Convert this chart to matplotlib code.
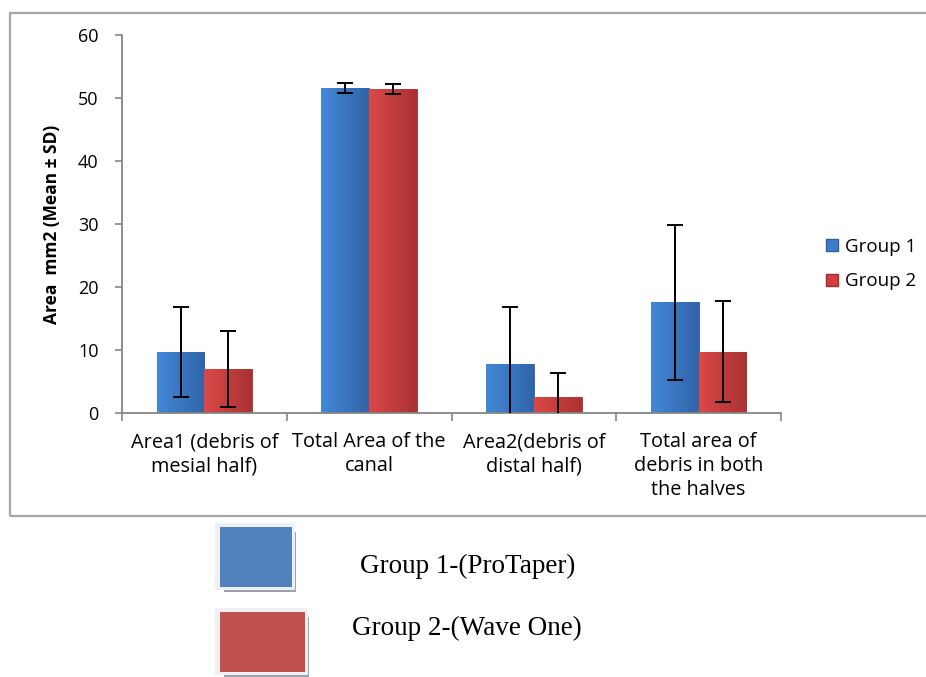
import matplotlib
matplotlib.use('Agg')
import matplotlib.pyplot as plt
import numpy as np
from matplotlib.patches import Rectangle, Patch

# Area of debris (mm2), mean and SD per group
categorias = ['Area1 (debris of\nmesial half)', 'Total Area of the\ncanal',
              'Area2(debris of\ndistal half)', 'Total area of\ndebris in both\nthe halves']
g1_media = [9.7, 51.6, 7.8, 17.6]
g1_sd = [7.1, 0.8, 9.0, 12.3]
g2_media = [7.0, 51.4, 2.6, 9.7]
g2_sd = [6.0, 0.8, 3.8, 8.0]
yticks = [0, 10, 20, 30, 40, 50, 60]

azul = '#3d7dcc'
rojo = '#d23f3f'

fig = plt.figure(figsize=(9.26, 6.77), dpi=100)
ax = fig.add_axes([0.1318, 0.3900, 0.7116, 0.5583])

x = np.arange(len(categorias))
w = 0.29
b1 = ax.bar(x - w / 2, g1_media, w, color=azul, edgecolor='#2e5f9e', linewidth=0.6, zorder=2)
b2 = ax.bar(x + w / 2, g2_media, w, color=rojo, edgecolor='#9e2e2e', linewidth=0.6, zorder=2)

# degradado horizontal dentro de cada barra (efecto 3D)
def sombrear(barras, claro, oscuro):
    cmap = matplotlib.colors.LinearSegmentedColormap.from_list('g', [claro, oscuro])
    grad = np.linspace(0, 1, 64).reshape(1, -1)
    for b in barras:
        x0, y0 = b.get_x(), b.get_y()
        im = ax.imshow(grad, cmap=cmap, aspect='auto', zorder=2.5,
                       extent=[x0, x0 + b.get_width(), y0, y0 + b.get_height()])
        im.set_clip_path(b)

sombrear(b1, '#4388d8', '#3164a8')
sombrear(b2, '#db4848', '#aa3232')

ax.errorbar(x - w / 2, g1_media, yerr=g1_sd, fmt='none', ecolor='black',
            elinewidth=1.4, capsize=5.5, capthick=1.4, zorder=3)
ax.errorbar(x + w / 2, g2_media, yerr=g2_sd, fmt='none', ecolor='black',
            elinewidth=1.4, capsize=5.5, capthick=1.4, zorder=3)

ax.set_xlim(-0.5, len(categorias) - 0.5)
ax.set_ylim(0, 60)
ax.set_yticks(yticks)
ax.set_yticklabels([str(t) for t in yticks], fontsize=13, family='Open Sans')
ax.set_xticks(x)
ax.set_xticklabels(categorias, fontsize=14.3, family='Open Sans', linespacing=1.25)
ax.set_xticks(np.arange(len(categorias) + 1) - 0.5, minor=True)
ax.tick_params(axis='x', which='major', length=0, pad=14)
ax.tick_params(axis='x', which='minor', length=6, color='#868686', width=1.2)
ax.tick_params(axis='y', length=5, color='#868686', width=1.2, pad=12)
for s in ['top', 'right']:
    ax.spines[s].set_visible(False)
for s in ['left', 'bottom']:
    ax.spines[s].set_color('#868686')
    ax.spines[s].set_linewidth(1.3)

ax.set_ylabel('Area  mm2 (Mean \u00b1 SD)', fontsize=12.5, fontweight='bold',
              family='Open Sans', labelpad=12)

ax.legend([Patch(facecolor=azul, edgecolor='#2e5f9e'), Patch(facecolor=rojo, edgecolor='#9e2e2e')],
          ['Group 1', 'Group 2'], loc='center left', bbox_to_anchor=(0.874, 0.61),
          bbox_transform=fig.transFigure, frameon=False, handlelength=0.65, handleheight=0.65,
          handletextpad=0.35, labelspacing=0.9, prop={'family': 'Open Sans', 'size': 13.5})

# marco exterior del grafico
W, H = 926, 677
fig.patches.append(Rectangle((10 / W, 1 - 516 / H), 1.0, (516 - 13) / H, transform=fig.transFigure,
                             fill=False, edgecolor='#a6a6a6', linewidth=1.6))

# leyenda inferior
def caja(x0, y0, x1, y1, color):
    fig.patches.append(Rectangle((x0 / W + 0.004, 1 - (y1 + 5) / H), (x1 - x0) / W, (y1 - y0) / H,
                                 transform=fig.transFigure, facecolor='#9aa3ad', edgecolor='none'))
    fig.patches.append(Rectangle(((x0 - 5) / W, 1 - (y1 + 3) / H), (x1 - x0 + 8) / W, (y1 - y0 + 7) / H,
                                 transform=fig.transFigure, facecolor='#f0f0f2', edgecolor='none'))
    fig.patches.append(Rectangle((x0 / W, 1 - y1 / H), (x1 - x0) / W, (y1 - y0) / H,
                                 transform=fig.transFigure, facecolor=color, edgecolor='none'))

caja(220, 527, 292, 587, '#4f81bd')
caja(220, 612, 305, 672, '#c0504d')
fig.text(360 / W, 1 - 566 / H, 'Group 1-(ProTaper)', fontsize=19.5, family='Liberation Serif',
         va='center', ha='left')
fig.text(352 / W, 1 - 628 / H, 'Group 2-(Wave One)', fontsize=19.5, family='Liberation Serif',
         va='center', ha='left')

fig.savefig('out.png', dpi=100)
